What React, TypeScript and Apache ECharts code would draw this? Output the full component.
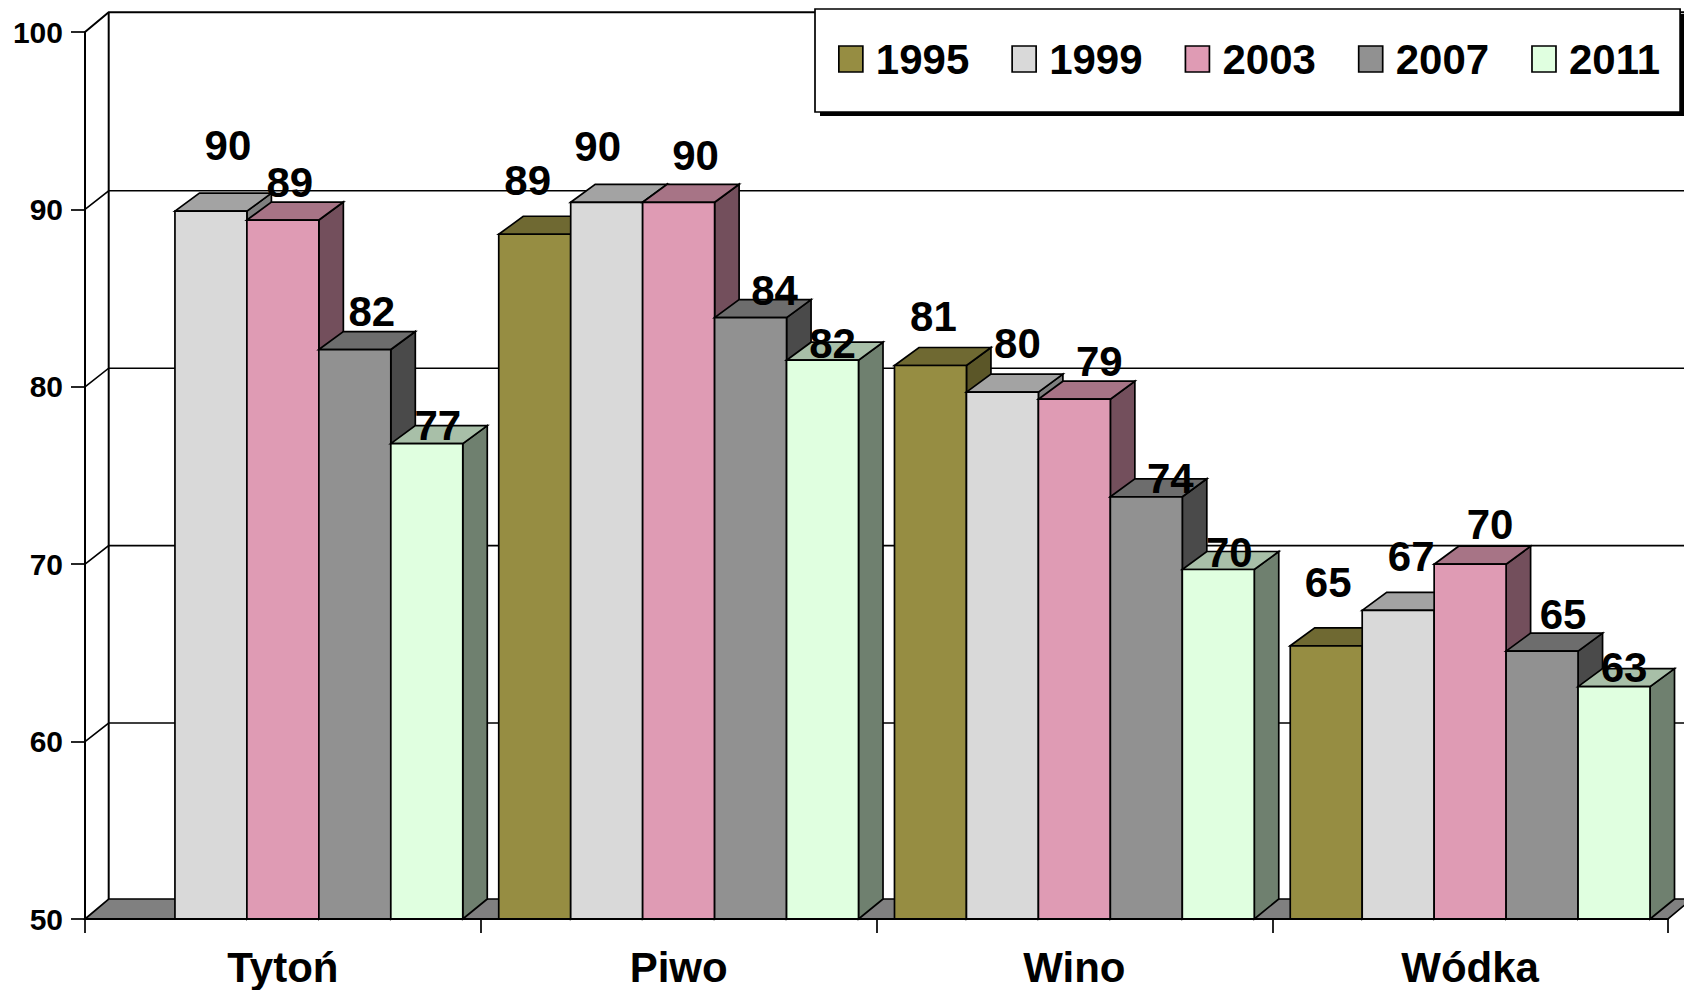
import React, { useEffect, useRef } from "react";
import * as echarts from "echarts";

const categories = ["Tytoń", "Piwo", "Wino", "Wódka"];
const years = ["1995", "1999", "2003", "2007", "2011"];
const values1995 = [null, 88.6, 81.2, 65.4];
const values1999 = [89.9, 90.4, 79.7, 67.4];
const values2003 = [89.4, 90.4, 79.3, 70.0];
const values2007 = [82.1, 83.9, 73.8, 65.1];
const values2011 = [76.8, 81.5, 69.7, 63.1];
const valueRows = [values1995, values1999, values2003, values2007, values2011];
const yTicks = [50, 60, 70, 80, 90, 100];

const faceColors = ["#968D42", "#D9D9D9", "#DF9BB4", "#919191", "#E0FFE0"];
const topColors = ["#6F6932", "#A3A3A3", "#A77486", "#6D6D6D", "#A8BFA8"];
const sideColors = ["#5B5628", "#7F7F7F", "#734F5C", "#4A4A4A", "#6F806F"];

// Hand placement of the value labels relative to each bar's top centre (px), [cat][year]
const labelOffsets = [
  [[0, 0], [17, -66], [7, -38], [17, -38], [11, -18]],
  [[-7, -54], [-9, -56], [17, -47], [24, -27], [10, -17]],
  [[3, -49], [15, -49], [25, -38], [24, -18], [11, -17]],
  [[2, -63], [13, -54], [20, -40], [21, -37], [10, -19]],
];

const FONT = '"Liberation Sans", Arial, sans-serif';
const WALL_DX = 23.7;
const BAR_DX = 24.5;
const BAR_DY = -18;
const STROKE = "#000";
const GAP_RATIO = 5.5;

function poly(points: number[][], fill: string, lineWidth = 1.7) {
  return { type: "polygon", shape: { points }, style: { fill, stroke: STROKE, lineWidth, lineJoin: "miter" } };
}

export default function App() {
  const ref = useRef<HTMLDivElement>(null);
  useEffect(() => {
    document.body.style.margin = "0";
    const chart = echarts.init(ref.current!, null, { renderer: "svg" });

    const barSeries = years.map((year, s) => ({
      type: "custom",
      name: year,
      z: 3,
      clip: false,
      silent: true,
      itemStyle: { color: faceColors[s] },
      encode: { x: 0, y: 1 },
      data: valueRows[s].map((v, i) => [i, v]).filter((d) => d[1] !== null),
      renderItem: (_p: any, api: any) => {
        const cat = api.value(0);
        const val = api.value(1);
        const center = api.coord([cat, val]);
        const base = api.coord([cat, 50]);
        const band = api.size([1, 0])[0];
        const w = band / GAP_RATIO;
        const x0 = center[0] - (2.5 - s) * w;
        const x1 = x0 + w;
        const yT = center[1];
        const yB = base[1];
        return {
          type: "group",
          children: [
            poly([[x1, yB], [x1 + BAR_DX, yB - 20], [x1 + BAR_DX, yT + BAR_DY], [x1, yT]], sideColors[s]),
            poly([[x0, yT], [x0 + BAR_DX, yT + BAR_DY], [x1 + BAR_DX, yT + BAR_DY], [x1, yT]], topColors[s]),
            poly([[x0, yB], [x0, yT], [x1, yT], [x1, yB]], faceColors[s]),
          ],
        };
      },
    }));

    const labelData: any[] = [];
    valueRows.forEach((row, s) =>
      row.forEach((v, i) => {
        if (v !== null) labelData.push([i, v, s]);
      })
    );

    const option: any = {
      animation: false,
      backgroundColor: "#fff",
      grid: { left: 85, right: 16, top: 32, bottom: 71, containLabel: false },
      xAxis: {
        type: "category",
        data: categories,
        boundaryGap: true,
        axisLine: { show: true, lineStyle: { color: "#000", width: 2 } },
        axisTick: { show: true, length: 14, lineStyle: { color: "#000", width: 1.7 } },
        axisLabel: { color: "#000", fontFamily: FONT, fontWeight: "bold", fontSize: 42, lineHeight: 38, margin: 29 },
        z: 4,
      },
      yAxis: {
        type: "value",
        min: 50,
        max: 100,
        interval: 10,
        splitLine: { show: false },
        axisLine: { show: true, lineStyle: { color: "#000", width: 2 } },
        axisTick: { show: true, length: 14, lineStyle: { color: "#000", width: 1.7 } },
        axisLabel: { color: "#000", fontFamily: FONT, fontWeight: "bold", fontSize: 30, margin: 22 },
        z: 4,
      },
      legend: {
        show: true,
        data: years,
        left: 815,
        top: 9,
        orient: "horizontal",
        backgroundColor: "#fff",
        borderColor: "#000",
        borderWidth: 1.7,
        padding: [29, 20, 32, 23],
        itemWidth: 24,
        itemHeight: 26,
        itemGap: 42,
        icon: "rect",
        textStyle: { color: "#000", fontFamily: FONT, fontWeight: "bold", fontSize: 42, padding: [0, 0, 0, 8] },
        itemStyle: { borderColor: "#000", borderWidth: 1.7 },
        z: 11,
      },
      graphic: [
        { type: "rect", z: 10, silent: true, shape: { x: 820, y: 14, width: 870, height: 102 }, style: { fill: "#000" } },
      ],
      series: [
        {
          type: "custom",
          name: "wall",
          z: 1,
          clip: false,
          silent: true,
          encode: { y: 0 },
          data: yTicks.map((t) => [t]),
          renderItem: (p: any, api: any) => {
            const t = api.value(0);
            const yF = api.coord([0, t])[1];
            const left = p.coordSys.x;
            const right = p.coordSys.x + p.coordSys.width;
            const children: any[] = [];
            const dy = t === 100 ? -19.7 : t === 50 ? -20 : -18.6;
            const line = { stroke: "#000", lineWidth: 1.6, fill: "none" };
            if (t === 50) {
              children.push({
                type: "polygon",
                shape: { points: [[left, yF], [left + WALL_DX, yF + dy], [right + WALL_DX, yF + dy], [right, yF]] },
                style: { fill: "#808080", stroke: "#000", lineWidth: 1.7 },
              });
              children.push({
                type: "line",
                shape: { x1: left + WALL_DX, y1: yF + dy, x2: left + WALL_DX, y2: p.coordSys.y - 19.7 },
                style: { stroke: "#000", lineWidth: 2 },
              });
            } else {
              children.push({
                type: "polyline",
                shape: { points: [[left, yF], [left + WALL_DX, yF + dy], [right + WALL_DX, yF + dy]] },
                style: t === 100 ? { ...line, lineWidth: 2 } : line,
              });
            }
            return { type: "group", children };
          },
        },
        ...barSeries,
        {
          type: "custom",
          name: "values",
          z: 6,
          clip: false,
          silent: true,
          encode: { x: 0, y: 1 },
          data: labelData,
          renderItem: (_p: any, api: any) => {
            const cat = api.value(0);
            const val = api.value(1);
            const s = api.value(2);
            const c = api.coord([cat, val]);
            const w = api.size([1, 0])[0] / GAP_RATIO;
            const off = labelOffsets[cat][s];
            return {
              type: "text",
              x: c[0] - (2 - s) * w + off[0],
              y: c[1] + off[1],
              style: {
                text: String(Math.round(val)),
                fill: "#000",
                font: `bold 42px ${FONT}`,
                textAlign: "center",
                textVerticalAlign: "middle",
                align: "center",
                verticalAlign: "middle",
              },
            };
          },
        },
      ],
    };
    chart.setOption(option);
    return () => chart.dispose();
  }, []);
  return <div ref={ref} style={{ width: 1684, height: 990, position: "fixed", left: 0, top: 0 }} />;
}
